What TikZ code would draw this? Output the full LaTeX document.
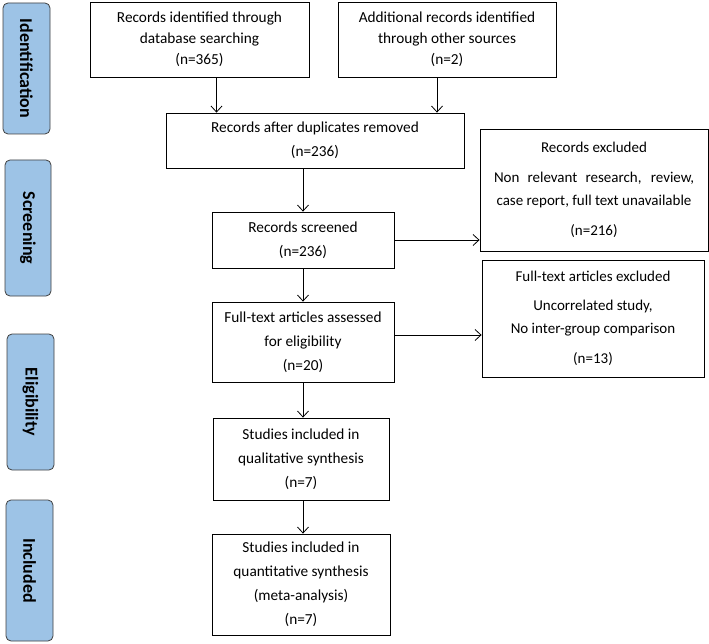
\documentclass[tikz,border=0pt]{standalone}
\usepackage{fontspec}
\setmainfont{Carlito}
\usetikzlibrary{arrows.meta}
\definecolor{tabblue}{HTML}{9DC3E6}
\tikzset{
    box/.style = {draw, rectangle, align=center, inner sep=2pt, font=\fontsize{15.3}{24}\selectfont},
    stage/.style = {draw=black!75, fill=tabblue, rounded corners=5pt, rotate=-90, font=\bfseries\fontsize{18}{20}\selectfont}
}

\begin{document}
\begin{tikzpicture}[x=1pt, y=-1pt, >={Straight Barb[length=6pt,width=11pt]}, line width=0.8pt]
    \useasboundingbox (0,0) rectangle (709,644);
    % Stages
    \node [stage, minimum width=131pt, minimum height=47pt] (ident) at (26.5,68.5) {Identification};
    \node [stage, minimum width=136pt, minimum height=46pt] (screen) at (28,228) {Screening};
    \node [stage, minimum width=136pt, minimum height=47pt] (elig) at (30.5,402) {Eligibility};
    \node [stage, minimum width=141pt, minimum height=47pt] (incl) at (29.5,570.5) {Included};

    % Boxes
    \node [box, minimum width=219pt, minimum height=75pt, font=\fontsize{15.3}{21}\selectfont] (database) at (199.5,39.5) {Records identified through\\database searching\\(n=365)};
    \node [box, minimum width=218pt, minimum height=75pt, font=\fontsize{15.3}{21}\selectfont] (other) at (447,39.5) {Additional records identified\\through other sources\\(n=2)};
    \node [box, minimum width=298pt, minimum height=55pt] (dupl) at (315,140.5) {Records after duplicates removed\\(n=236)};
    \node [box, minimum width=182pt, minimum height=56pt] (screened) at (303,240) {Records screened\\(n=236)};
    \node [box, minimum width=182pt, minimum height=80pt] (fulltext) at (303,342) {Full-text articles assessed\\for eligibility\\(n=20)};
    \node [box, minimum width=176pt, minimum height=82pt] (quali) at (301,459) {Studies included in\\qualitative synthesis\\(n=7)};
    \node [box, minimum width=178pt, minimum height=101pt] (quanti) at (301,584.5) {Studies included in\\quantitative synthesis\\(meta-analysis)\\(n=7)};
    \node [box, minimum width=228pt, minimum height=122pt, font=\fontsize{15}{23}\selectfont] (excl) at (594,190) {Records excluded\\[7pt]\makebox[200pt][s]{Non relevant research, review,}\\case report, full text unavailable\\[7pt](n=216)};
    \node [box, minimum width=222pt, minimum height=117pt, font=\fontsize{15}{23}\selectfont] (ftexcl) at (593,318.5) {Full-text articles excluded\\[6pt]Uncorrelated study,\\No inter-group comparison\\[7pt](n=13)};

    % Arrows
    \draw [->] ([xshift=17pt]database.south) -- ([xshift=17pt]database.south |- dupl.north);
    \draw [->] ([xshift=-10pt]other.south) -- ([xshift=-10pt]other.south |- dupl.north);
    \draw [->] (dupl.south -| screened.north) -- (screened.north);
    \draw [->] (screened.south) -- (fulltext.north);
    \draw [->] (fulltext.south) -- (fulltext.south |- quali.north);
    \draw [->] (quali.south -| fulltext.south) -- (fulltext.south |- quanti.north);
    \draw [->] (screened.east) -- (screened.east -| excl.west);
    \draw [->] ([yshift=7pt]fulltext.east) -- ([yshift=7pt]fulltext.east -| ftexcl.west);
\end{tikzpicture}
\end{document}
